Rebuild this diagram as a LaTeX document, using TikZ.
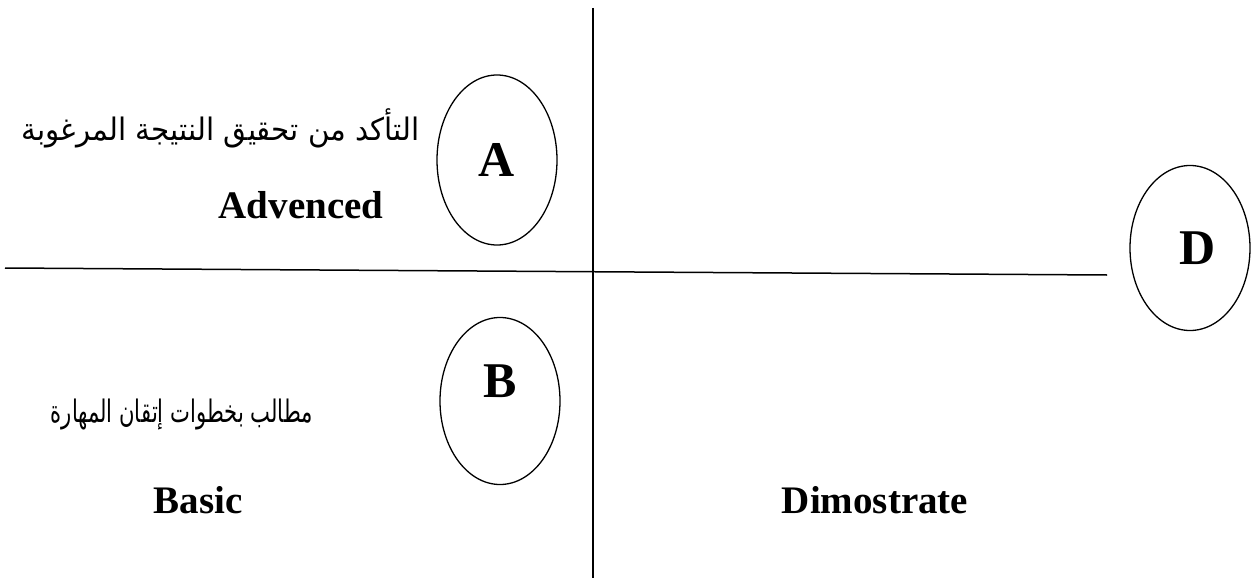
\documentclass[tikz,border=0pt]{standalone}
\usepackage{fontspec}
\usepackage{graphicx}
\setmainfont{Liberation Serif}
\newfontfamily\arabicfont[Script=Arabic]{DejaVu Sans}
\TeXXeTstate=1
\usetikzlibrary{shapes.geometric}
\begin{document}
\begin{tikzpicture}[x=1pt,y=-1pt,
  oval/.style={draw,ellipse,line width=1.3pt,inner sep=0pt},
  letter/.style={font=\fontsize{50}{60}\selectfont\bfseries,inner sep=0pt},
  label/.style={font=\fontsize{39}{46}\selectfont\bfseries,inner sep=0pt},
  artext/.style={font=\fontsize{31}{36}\selectfont\arabicfont,inner sep=0pt},
  axis/.style={line width=1.5pt}]
\useasboundingbox (0,0) rectangle (1251,578);
\coordinate (vt) at (593,8);
\coordinate (vb) at (593,578);
\coordinate (hl) at (5,268);
\coordinate (hr) at (1107,275);
\draw[axis] (vt) -- (vb);
\draw[axis] (hl) -- (hr);
\node[oval,minimum width=120,minimum height=170] (A) at (497,160) {};
\node[letter] (Al) at (497,160) {A};
\node[oval,minimum width=120,minimum height=167] (B) at (500,401) {};
\node[letter] (Bl) at (500,381) {B};
\node[oval,minimum width=120,minimum height=165] (D) at (1190,248) {};
\node[letter] (Dl) at (1198,248) {D};
\node[artext,anchor=east] (t1) at (420,128) {\resizebox{398pt}{\height}{\beginR التأكد من تحقيق النتيجة  المرغوبة\endR}};
\node[artext,anchor=east] (t2) at (313,415) {\resizebox{262pt}{\height}{\beginR مطالب بخطوات إتقان المهارة\endR}};
\node[label] (adv) at (301,205) {Advenced};
\node[label] (bas) at (198,500) {Basic};
\node[label] (dim) at (875,500) {Dimostrate};
\end{tikzpicture}
\end{document}
